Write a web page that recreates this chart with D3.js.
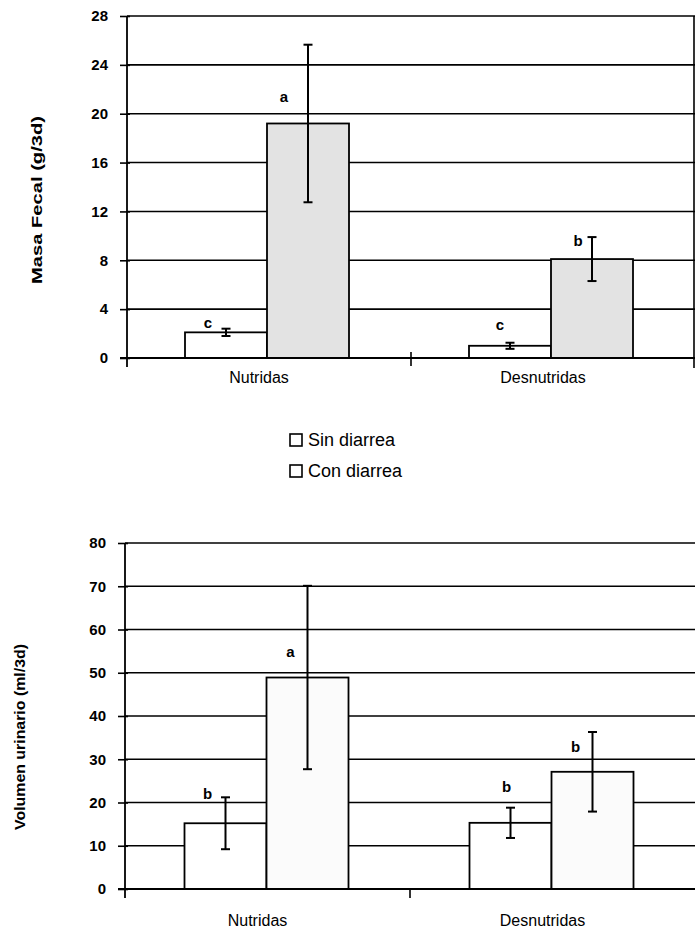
<!DOCTYPE html>
<html>
<head>
<meta charset="utf-8">
<script src="https://cdn.jsdelivr.net/npm/d3@7/dist/d3.min.js"></script>
<style>
  body { margin: 0; background: #fff; }
  svg { display: block; font-family: "Liberation Sans", Arial, sans-serif; }
</style>
</head>
<body>
<div id="chart"></div>
<script>
// ---- data ----
var categories = ["Nutridas", "Desnutridas"];
var series = ["Sin diarrea", "Con diarrea"];

// Masa fecal (g/3d)
var fecalSin = [2.1, 1.0];
var fecalCon = [19.2, 8.1];
var fecalSinErr = [0.3, 0.25];
var fecalConErr = [6.45, 1.8];
var fecalSinLetters = ["c", "c"];
var fecalConLetters = ["a", "b"];
var fecalTicks = [0, 4, 8, 12, 16, 20, 24, 28];

// Volumen urinario (ml/3d)
var urineSin = [15.2, 15.3];
var urineCon = [48.9, 27.1];
var urineSinErr = [6.0, 3.5];
var urineConErr = [21.2, 9.2];
var urineSinLetters = ["b", "b"];
var urineConLetters = ["a", "b"];
var urineTicks = [0, 10, 20, 30, 40, 50, 60, 70, 80];

// ---- layout ----
var W = 696, H = 932;

var svg = d3.select("#chart").append("svg")
    .attr("width", W)
    .attr("height", H);

var panels = [
  {
    title: "Masa Fecal (g/3d)", titleX: 42, titleY: 200, titleLen: 168,
    left: 127, right: 695, top: 16, bottom: 358,
    max: 28, ticks: fecalTicks,
    values: [fecalSin, fecalCon], errors: [fecalSinErr, fecalConErr],
    letters: [fecalSinLetters, fecalConLetters],
    letterDx: [[-18, -10], [-24, -14]], letterDy: [[-10, -21], [-27, -18]],
    fills: ["#ffffff", "#e3e3e3"], shift: -2, catY: 383,
    catTick: [-6, 8], border: true
  },
  {
    title: "Volumen urinario (ml/3d)", titleX: 25, titleY: 737, titleLen: 186,
    left: 125, right: 695, top: 543, bottom: 889,
    max: 80, ticks: urineTicks,
    values: [urineSin, urineCon], errors: [urineSinErr, urineConErr],
    letters: [urineSinLetters, urineConLetters],
    letterDx: [[-18, -4], [-17, -17]], letterDy: [[-30, -36], [-26, -25]],
    fills: ["#ffffff", "#fbfbfb"], shift: -1, catY: 926,
    catTick: [0, 9], border: false
  }
];

panels.forEach(drawPanel);

function drawPanel(p) {
  var groupW = 164;

  var x = d3.scaleBand().domain(categories).range([p.left, p.right]);
  var xs = d3.scaleBand().domain(series).range([0, groupW]);
  var y = d3.scaleLinear().domain([0, p.max]).range([p.bottom, p.top]);

  function groupStart(c) {
    return x(c) + (x.bandwidth() - groupW) / 2 + p.shift;
  }

  var g = svg.append("g");

  // gridlines (bars cover them)
  g.selectAll(".grid")
      .data(p.ticks)
      .enter().append("line")
      .attr("x1", p.left).attr("x2", p.right)
      .attr("y1", function(d) { return y(d); })
      .attr("y2", function(d) { return y(d); })
      .attr("stroke", "#000")
      .attr("stroke-width", 1.6);

  if (p.border) {
    g.append("line")
        .attr("x1", p.right - 1).attr("x2", p.right - 1)
        .attr("y1", p.top).attr("y2", p.bottom + 10)
        .attr("stroke", "#000").attr("stroke-width", 1.6);
  }

  // Y axis
  var yAxis = g.append("g")
      .attr("transform", "translate(" + p.left + ",0)")
      .call(d3.axisLeft(y).tickValues(p.ticks).tickSize(7).tickPadding(12));
  yAxis.select(".domain").remove();
  yAxis.selectAll(".tick line").attr("stroke", "#000").attr("stroke-width", 1.6).attr("x2", -7).attr("x1", 3);
  yAxis.selectAll(".tick text")
      .attr("fill", "#000")
      .style("font-family", "'Liberation Sans', Arial, sans-serif")
      .style("font-size", "15px")
      .style("font-weight", "bold");

  g.append("line")
      .attr("x1", p.left).attr("x2", p.left)
      .attr("y1", p.top).attr("y2", p.bottom + 9)
      .attr("stroke", "#000").attr("stroke-width", 1.8);

  // category separator tick
  g.append("line")
      .attr("x1", x(categories[1])).attr("x2", x(categories[1]))
      .attr("y1", p.bottom + p.catTick[0]).attr("y2", p.bottom + p.catTick[1])
      .attr("stroke", "#000").attr("stroke-width", 1.6);

  // bars
  series.forEach(function(s, si) {
    var vals = p.values[si];
    g.selectAll(".bar" + si)
        .data(categories)
        .enter().append("rect")
        .attr("x", function(c) { return groupStart(c) + xs(s); })
        .attr("y", function(c, i) { return y(vals[i]); })
        .attr("width", xs.bandwidth())
        .attr("height", function(c, i) { return y(0) - y(vals[i]); })
        .attr("fill", p.fills[si])
        .attr("stroke", "#000")
        .attr("stroke-width", 1.8);
  });

  // baseline
  g.append("line")
      .attr("x1", p.left - 7).attr("x2", p.right)
      .attr("y1", y(0)).attr("y2", y(0))
      .attr("stroke", "#000").attr("stroke-width", 1.8);

  // error bars + letters
  series.forEach(function(s, si) {
    var vals = p.values[si], errs = p.errors[si], lets = p.letters[si];
    categories.forEach(function(c, i) {
      var cx = groupStart(c) + xs(s) + xs.bandwidth() / 2;
      var hi = y(vals[i] + errs[i]), lo = y(vals[i] - errs[i]);
      g.append("line")
          .attr("x1", cx).attr("x2", cx).attr("y1", hi).attr("y2", lo)
          .attr("stroke", "#000").attr("stroke-width", 2);
      [hi, lo].forEach(function(yy) {
        g.append("line")
            .attr("x1", cx - 4.5).attr("x2", cx + 4.5).attr("y1", yy).attr("y2", yy)
            .attr("stroke", "#000").attr("stroke-width", 2);
      });
      g.append("text")
          .text(lets[i])
          .attr("x", cx + p.letterDx[si][i])
          .attr("y", y(vals[i]) + p.letterDy[si][i])
          .attr("dy", "0.35em")
          .attr("text-anchor", "middle")
          .style("font-size", "15px")
          .style("font-weight", "bold");
    });
  });

  // category labels
  g.selectAll(".cat")
      .data(categories)
      .enter().append("text")
      .text(function(d) { return d; })
      .attr("x", function(d) { return x(d) + x.bandwidth() / 2 - 10; })
      .attr("y", p.catY)
      .attr("text-anchor", "middle")
      .style("font-size", "16px");

  // Y title
  g.append("text")
      .text(p.title)
      .attr("transform", "translate(" + p.titleX + "," + p.titleY + ") rotate(-90)")
      .attr("text-anchor", "middle")
      .attr("textLength", p.titleLen)
      .attr("lengthAdjust", "spacingAndGlyphs")
      .style("font-size", "14px")
      .style("font-weight", "bold");
}

// legend (between the two panels)
var legend = svg.append("g").attr("transform", "translate(289,440)");
series.forEach(function(s, i) {
  var row = legend.append("g").attr("transform", "translate(0," + (i * 31) + ")");
  row.append("rect")
      .attr("x", 1).attr("y", -6)
      .attr("width", 12).attr("height", 12)
      .attr("fill", "#fff").attr("stroke", "#000").attr("stroke-width", 1.6);
  row.append("text")
      .text(s)
      .attr("x", 19)
      .attr("dy", "0.36em")
      .style("font-size", "18px");
});
</script>
</body>
</html>
